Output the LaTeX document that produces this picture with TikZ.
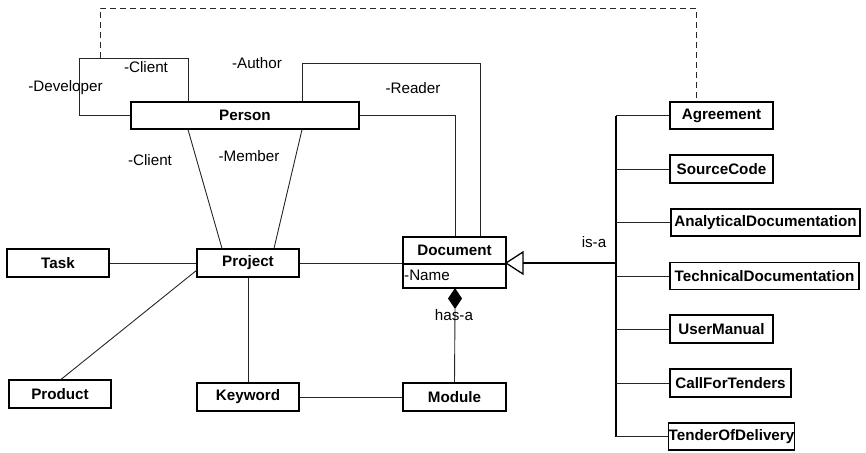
\documentclass[tikz,border=0pt]{standalone}
\usepackage{fontspec}
\setmainfont{Liberation Sans}
\begin{document}
\begin{tikzpicture}[x=1pt,y=-1pt,
  cls/.style={draw, line width=1.2pt, fill=white, inner sep=0pt, font=\fontsize{15.2}{18}\selectfont\bfseries},
  lbl/.style={inner sep=0pt, font=\fontsize{15.2}{18}\selectfont},
  conn/.style={line width=0.9pt, draw=black!85},
]
\useasboundingbox (0,0) rectangle (866,452);
% classes
\node[cls, minimum width=228pt, minimum height=27pt] (person) at (245,115.5) {Person};
\node[cls, minimum width=102pt, minimum height=28pt] (project) at (248,263) {Project};
\node[cls, minimum width=102pt, minimum height=28pt] (task) at (58,263) {Task};
\node[cls, minimum width=102pt, minimum height=28pt] (product) at (60,394) {Product};
\node[cls, minimum width=102pt, minimum height=28pt] (keyword) at (248,397) {Keyword};
\node[cls, minimum width=103pt, minimum height=28pt] (module) at (454.5,397) {Module};
\node[cls, minimum width=103pt, minimum height=51pt] (doc) at (454.5,262.5) {};
\draw[line width=1.2pt] (403,264) coordinate (dl) -- (506,264) coordinate (dr);
\node[cls, draw=none, fill=none] (doctitle) at (454.5,250) {Document};
\node[lbl, anchor=west] (docattr) at (404,275) {-Name};
\node[cls, minimum width=103pt, minimum height=27pt] (agree) at (721.5,115.5) {Agreement};
\node[cls, minimum width=103pt, minimum height=28pt] (source) at (721.5,169) {SourceCode};
\node[cls, minimum width=189pt, minimum height=27pt] (analyt) at (765.5,222.5) {AnalyticalDocumentation};
\node[cls, minimum width=189pt, minimum height=27pt] (techn) at (764.5,276) {TechnicalDocumentation};
\node[cls, minimum width=103pt, minimum height=28pt] (user) at (721.5,329) {UserManual};
\node[cls, minimum width=121pt, minimum height=28pt] (call) at (730.5,383) {CallForTenders};
\node[cls, minimum width=123pt, minimum height=27pt] (tender) at (731.5,436.5) {TenderOfDelivery};
% connectors
\draw[conn] (person.west) -- (79,115.5) -- (79,58) -- (188,58) -- (188,0 |- person.north);
\draw[conn, dashed, dash pattern=on 6pt off 4pt] (100,58) -- (100,8) -- (696,8) -- (696,0 |- agree.north);
\draw[conn] (302,0 |- person.north) -- (302,63) -- (480,63) -- (480,0 |- doc.north);
\draw[conn] (person.east) -- (455,115.5) -- (455,0 |- doc.north);
\draw[conn] (188,0 |- person.south) -- (222,0 |- project.north);
\draw[conn] (302,0 |- person.south) -- (274,0 |- project.north);
\draw[conn] (task.east) -- (project.west);
\draw[conn] (197,270) coordinate (pj) -- (61,0 |- product.north);
\draw[conn] (project.south) -- (keyword.north);
\draw[conn] (keyword.east) -- (module.west);
\draw[conn] (project.east) -- (project.east -| doc.west);
\draw[conn] (module.north) -- (455,309);
\fill (455,288) -- (462,298.5) -- (455,309) -- (448,298.5) -- cycle;
% inheritance
\draw[line width=2pt] (523,263) -- (616,263) coordinate (bus);
\draw[line width=1.3pt, fill=white] (506,263) -- (523,252) -- (523,274) -- cycle;
\draw[line width=1.3pt] (616,0 |- agree.west) -- (616,0 |- tender.west);
\foreach \n in {agree,source,analyt,techn,user,call,tender}
  \draw[conn] (616,0 |- \n.west) -- (\n.west);
% labels
\node[lbl] (l1) at (146,67) {-Client};
\node[lbl] (l2) at (65.5,88) {-Developer};
\node[lbl] (l3) at (257,63) {-Author};
\node[lbl] (l4) at (413,88) {-Reader};
\node[lbl] (l5) at (150,160) {-Client};
\node[lbl] (l6) at (249,156) {-Member};
\node[lbl] (l7) at (594,242) {is-a};
\node[lbl] (l8) at (454,315) {has-a};
\end{tikzpicture}
\end{document}
